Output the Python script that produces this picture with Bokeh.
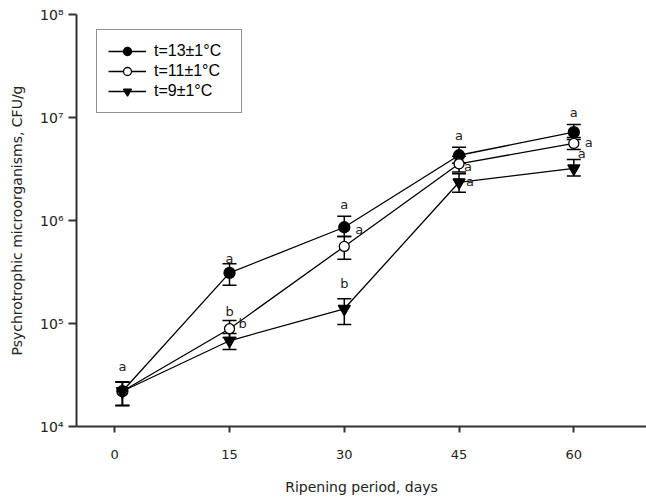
from bokeh.plotting import figure
from bokeh.models import Range1d, Whisker, ColumnDataSource, Legend, LegendItem, FixedTicker, TeeHead
from bokeh.core.properties import value
from bokeh.embed import file_html
from bokeh.resources import INLINE

# ---- data ----
days = [1, 15, 30, 45, 60]
x_ticks = [0, 15, 30, 45, 60]
y_ticks = [1e4, 1e5, 1e6, 1e7, 1e8]
y_tick_labels = ["10\u2074", "10\u2075", "10\u2076", "10\u2077", "10\u2078"]

series_names = ["t=13\u00b11\u00b0C", "t=11\u00b11\u00b0C", "t=9\u00b11\u00b0C"]

mean_13 = [2.2e4, 3.1e5, 8.6e5, 4.3e6, 7.2e6]
upper_13 = [2.7e4, 3.8e5, 1.1e6, 5.15e6, 8.55e6]
lower_13 = [1.6e4, 2.35e5, 7.0e5, 3.6e6, 6.1e6]

mean_11 = [2.2e4, 8.9e4, 5.6e5, 3.55e6, 5.6e6]
upper_11 = [2.7e4, 1.07e5, 7.0e5, 4.2e6, 6.4e6]
lower_11 = [1.6e4, 7.3e4, 4.2e5, 2.95e6, 4.9e6]

mean_9 = [2.2e4, 6.8e4, 1.39e5, 2.35e6, 3.2e6]
upper_9 = [2.7e4, 8.0e4, 1.74e5, 2.84e6, 3.9e6]
lower_9 = [1.6e4, 5.6e4, 9.8e4, 1.88e6, 2.7e6]

# significance letters: series index, day index, letter, anchor ("up" = above error bar, "pt" = beside point)
lab_series = [0, 0, 1, 2, 0, 1, 2, 0, 1, 2, 0, 1, 2]
lab_day = [0, 1, 1, 1, 2, 2, 2, 3, 3, 3, 4, 4, 4]
lab_text = ["a", "a", "b", "b", "a", "a", "b", "a", "a", "a", "a", "a", "a"]
lab_anchor = ["up", "up", "up", "pt", "up", "pt", "up", "up", "pt", "pt", "up", "pt", "pt"]
lab_dx = [0, 0, 0, 13, 0, 15, 0, 0, 9, 11, 0, 15, 8]
lab_dy = [-16, -5, -9, -17, -12, -17, -15, -12, 3, -1, -12, -1, -15]

means = [mean_13, mean_11, mean_9]
uppers = [upper_13, upper_11, upper_9]
lowers = [lower_13, lower_11, lower_9]

p = figure(width=646, height=500, x_range=Range1d(-5, 69.5), y_range=Range1d(1e4, 1e8),
           y_axis_type="log", output_backend="svg", toolbar_location=None,
           min_border_left=76, min_border_top=14, min_border_bottom=74, min_border_right=0)
p.grid.visible = False
p.outline_line_color = None
p.background_fill_color = "white"

# axes
for ax in (p.xaxis[0], p.yaxis[0]):
    ax.axis_line_width = 2
    ax.axis_line_color = "#333333"
    ax.major_tick_line_width = 2
    ax.major_tick_line_color = "#333333"
    ax.major_tick_in = 0
    ax.minor_tick_line_color = None
    ax.major_label_text_font = "DejaVu Sans"
    ax.major_label_text_font_size = "13px"
    ax.major_label_text_color = "#222222"
    ax.axis_label_text_font = "DejaVu Sans"
    ax.axis_label_text_font_size = "14px"
    ax.axis_label_text_font_style = "normal"
    ax.axis_label_text_color = "#222222"

p.xaxis.ticker = FixedTicker(ticks=x_ticks, minor_ticks=[])
p.xaxis.major_tick_out = 6
p.xaxis.major_label_standoff = 17
p.xaxis.axis_label = "Ripening period, days"
p.xaxis.axis_label_standoff = 17

p.yaxis.ticker = FixedTicker(ticks=y_ticks, minor_ticks=[])
p.yaxis.major_label_overrides = {t: l for t, l in zip(y_ticks, y_tick_labels)}
p.yaxis.major_label_text_font_size = "14px"
p.yaxis.major_tick_out = 8
p.yaxis.major_label_standoff = 5
p.yaxis.axis_label = "Psychrotrophic microorganisms, CFU/g"
p.yaxis.axis_label_standoff = 12

markers = ["circle", "circle", "inverted_triangle"]
fills = ["black", "white", "black"]
sizes = [11, 10, 12]

items = []
for i in range(3):
    src = ColumnDataSource(dict(x=days, y=means[i], up=uppers[i], lo=lowers[i]))
    lr = p.line("x", "y", source=src, line_color="black", line_width=1.3)
    w = Whisker(base="x", upper="up", lower="lo", source=src, level="underlay",
                line_color="black", line_width=1.5,
                upper_head=TeeHead(size=14, line_width=1.5, line_color="black"),
                lower_head=TeeHead(size=14, line_width=1.5, line_color="black"))
    p.add_layout(w)
    sr = p.scatter("x", "y", source=src, marker=markers[i], size=sizes[i],
                   fill_color=fills[i], line_color="black", line_width=1.3)
    items.append(LegendItem(label=series_names[i], renderers=[lr, sr]))

# significance letters
lx, ly = [], []
for s, d, a in zip(lab_series, lab_day, lab_anchor):
    lx.append(days[d])
    ly.append(uppers[s][d] if a == "up" else means[s][d])
lsrc = ColumnDataSource(dict(x=lx, y=ly, t=lab_text, dx=lab_dx, dy=lab_dy))
p.text("x", "y", text="t", x_offset="dx", y_offset="dy", source=lsrc,
       text_align="center", text_baseline="middle", text_font=value("DejaVu Sans"),
       text_font_size=value("13px"), text_color="#222222")

legend = Legend(items=items, location=(20, 313), padding=11, spacing=0,
                glyph_width=38, glyph_height=20, label_height=20, label_width=76,
                label_standoff=8, label_text_font="Liberation Sans",
                label_text_font_size="16px", label_text_color="black",
                border_line_color="#222222", border_line_width=1.5,
                background_fill_color="white", background_fill_alpha=1.0, margin=0)
p.add_layout(legend, "center")

open("out.html", "w").write(file_html(p, INLINE))
